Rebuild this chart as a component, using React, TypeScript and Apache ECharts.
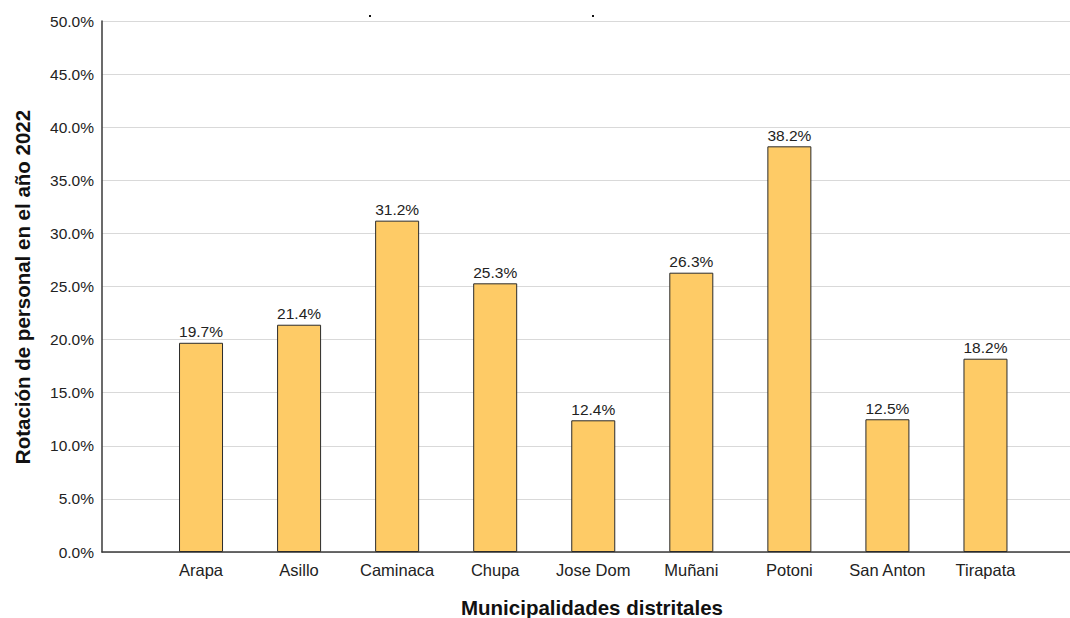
import React, { useEffect, useRef } from "react";
import * as echarts from "echarts";

const categories = ["Arapa", "Asillo", "Caminaca", "Chupa", "Jose Dom", "Muñani", "Potoni", "San Anton", "Tirapata"];
const rotationValues = [19.7, 21.4, 31.2, 25.3, 12.4, 26.3, 38.2, 12.5, 18.2];
const yTicksMin = 0;
const yTicksMax = 50;
const yTickStep = 5;
const xTitle = "Municipalidades distritales";
const yTitle = "Rotación de personal en el año 2022";

const FONT = "'Liberation Sans', Arial, sans-serif";

export default function App() {
  const ref = useRef<HTMLDivElement>(null);
  useEffect(() => {
    if (!ref.current) return;
    const chart = echarts.init(ref.current, undefined, { renderer: "svg" });
    const pct = (v: number) => v.toFixed(1) + "%";
    chart.setOption({
      animation: false,
      backgroundColor: "#ffffff",
      textStyle: { fontFamily: FONT },
      grid: [
        { left: 102, right: 0, top: 21, height: 531 },
        { left: 152, width: 882.5, top: 21, height: 531 },
      ],
      xAxis: [
        {
          gridIndex: 0,
          type: "value",
          min: 0,
          max: 1,
          axisLine: { show: true, onZero: false, lineStyle: { color: "#3a3a3a", width: 1.5 } },
          axisTick: { show: false },
          axisLabel: { show: false },
          splitLine: { show: false },
        },
        {
          gridIndex: 1,
          type: "category",
          data: categories,
          axisLine: { show: false },
          axisTick: { show: false },
          axisLabel: { color: "#222", fontSize: 16.5, fontFamily: FONT, margin: 9, interval: 0, hideOverlap: false },
          splitLine: { show: false },
        },
      ],
      yAxis: [
        {
          gridIndex: 0,
          type: "value",
          min: yTicksMin,
          max: yTicksMax,
          interval: yTickStep,
          axisLine: { show: true, lineStyle: { color: "#3a3a3a", width: 1.5 } },
          axisTick: { show: false },
          axisLabel: { color: "#222", fontSize: 15.5, fontFamily: FONT, margin: 8, formatter: (v: number) => pct(v) },
          splitLine: { show: true, lineStyle: { color: "#d9d9d9", width: 1 } },
        },
        {
          gridIndex: 1,
          type: "value",
          min: yTicksMin,
          max: yTicksMax,
          show: false,
        },
      ],
      series: [
        {
          type: "bar",
          xAxisIndex: 1,
          yAxisIndex: 1,
          data: rotationValues,
          barWidth: 44,
          itemStyle: { color: "#FECB66", borderColor: "#2b2b2b", borderWidth: 1 },
          label: {
            show: true,
            position: "top",
            distance: 3,
            color: "#222",
            fontSize: 15.5,
            fontFamily: FONT,
            formatter: (p: any) => pct(p.value),
          },
        },
      ],
      graphic: [
        {
          type: "text",
          x: 592,
          y: 607,
          style: {
            text: xTitle,
            font: `bold 20.5px ${FONT}`,
            fill: "#111",
            textAlign: "center",
            textVerticalAlign: "middle",
          },
        },
        {
          type: "text",
          x: 22,
          y: 287,
          rotation: Math.PI / 2,
          style: {
            text: yTitle,
            font: `bold 20.5px ${FONT}`,
            fill: "#111",
            textAlign: "center",
            textVerticalAlign: "middle",
          },
        },
        { type: "rect", shape: { x: 369, y: 15, width: 2, height: 2 }, style: { fill: "#111" } },
        { type: "rect", shape: { x: 592, y: 15, width: 2, height: 2 }, style: { fill: "#111" } },
      ],
    });
    return () => chart.dispose();
  }, []);
  return <div ref={ref} style={{ width: 1070, height: 618, position: "absolute", left: 0, top: 0 }} />;
}
